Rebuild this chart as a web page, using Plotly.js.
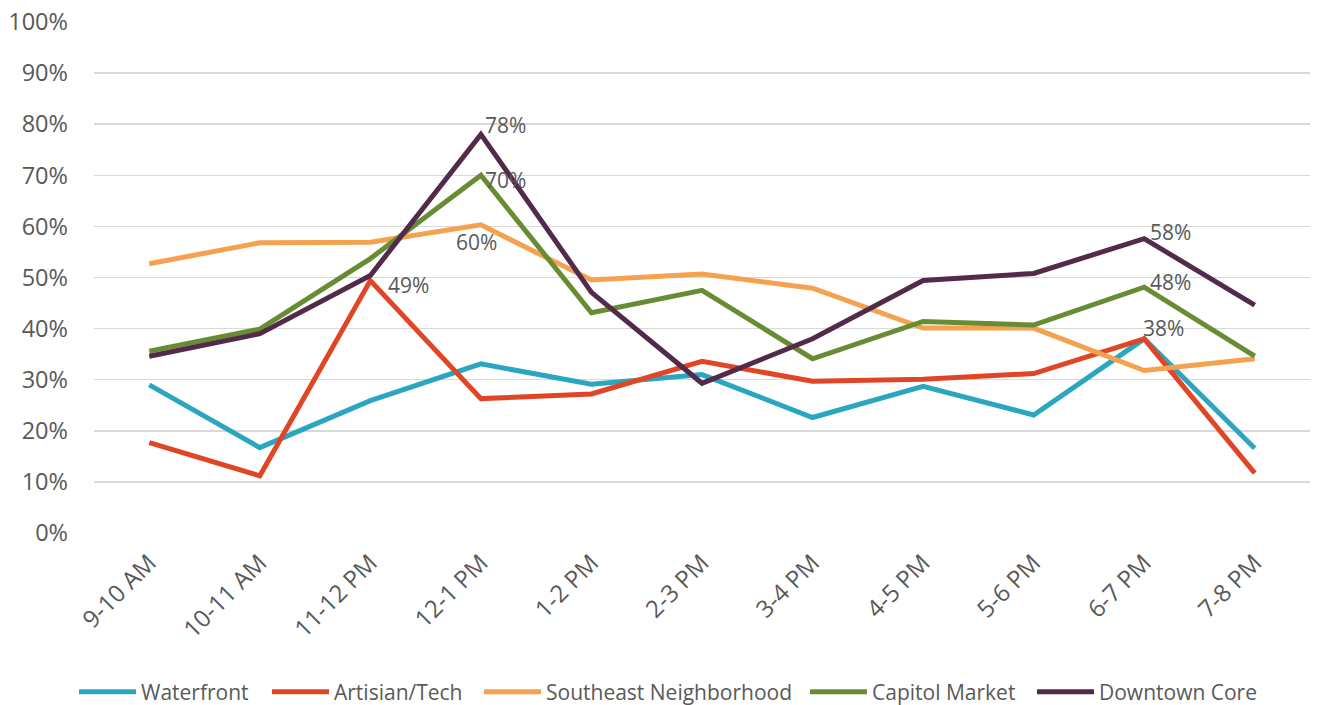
<!DOCTYPE html>
<html>
<head>
<meta charset="utf-8">
<script src="https://cdn.plot.ly/plotly-3.0.1.min.js"></script>
<style>html,body{margin:0;padding:0;background:#fff;}#chart{width:1317px;height:705px;}</style>
</head>
<body>
<div id="chart"></div>
<script>
const categories = ["9-10 AM","10-11 AM","11-12 PM","12-1 PM","1-2 PM","2-3 PM","3-4 PM","4-5 PM","5-6 PM","6-7 PM","7-8 PM"];
const seriesNames = ["Waterfront","Artisian/Tech","Southeast Neighborhood","Capitol Market","Downtown Core"];
const waterfront = [29.0,16.7,25.9,33.1,29.1,31.0,22.6,28.7,23.1,38.0,16.6];
const artisianTech = [17.7,11.2,49.4,26.3,27.2,33.6,29.7,30.1,31.2,38.0,11.7];
const southeast = [52.7,56.8,56.9,60.3,49.5,50.7,47.9,40.1,40.1,31.8,34.1];
const capitolMarket = [35.6,39.9,53.7,70.0,43.1,47.5,34.1,41.4,40.7,48.1,34.6];
const downtownCore = [34.6,39.0,50.4,78.0,47.1,29.3,38.0,49.4,50.8,57.6,44.6];
const yTicks = [0,10,20,30,40,50,60,70,80,90,100];

const seriesValues = [waterfront, artisianTech, southeast, capitolMarket, downtownCore];
const colors = ["#2BA6C0","#E04526","#F5A250","#688C33","#532A4A"];
// data labels: [series index, category index, xanchor, xshift, yshift]
const labelSpec = [
  [4, 3, "left", 2, 9],
  [3, 3, "left", 2, -5],
  [2, 3, "center", -4, -17],
  [1, 2, "left", 16, -4],
  [4, 9, "left", 4, 7],
  [3, 9, "left", 4, 5],
  [0, 9, "left", -3, 11]
];
// legend entry left edges (px in the 1317-wide page)
const legendLeft = [79, 272, 484, 810, 1037];
const legendOffset = 5;

const FONT = "Open Sans, sans-serif";
const GREY = "#595959";
const legendIds = ["legend","legend2","legend3","legend4","legend5"];

const traces = seriesValues.map((vals, s) => ({
  type: "scatter",
  mode: "lines",
  name: seriesNames[s],
  x: categories,
  y: vals,
  legend: legendIds[s],
  line: {color: colors[s], width: 5},
  hoverinfo: "x+y+name"
}));

const annotations = labelSpec.map(([s, i, xa, xs, ys]) => ({
  x: categories[i],
  y: seriesValues[s][i],
  xref: "x", yref: "y",
  text: Math.round(seriesValues[s][i]) + "%",
  showarrow: false,
  xanchor: xa, yanchor: "middle",
  xshift: xs, yshift: ys,
  font: {family: FONT, size: 21, color: GREY}
}));

const layout = {
  width: 1317,
  height: 705,
  margin: {l: 94, r: 7, t: 22, b: 172, autoexpand: false},
  paper_bgcolor: "#ffffff",
  plot_bgcolor: "#ffffff",
  font: {family: FONT, size: 20, color: GREY},
  showlegend: true,
  annotations: annotations,
  xaxis: {
    type: "category",
    range: [-0.5, 10.5],
    tickangle: -45,
    showgrid: false,
    zeroline: false,
    showline: false,
    automargin: false,
    ticks: "",
    tickfont: {family: FONT, size: 24, color: GREY},
    ticklabelstandoff: 10
  },
  yaxis: {
    range: [0, 100],
    tickvals: yTicks,
    ticktext: yTicks.map(v => v + "%"),
    showgrid: true,
    gridcolor: "#D9D9D9",
    gridwidth: 1.5,
    zeroline: false,
    showline: false,
    automargin: false,
    ticks: "",
    tickfont: {family: FONT, size: 23.5, color: GREY},
    ticklabelstandoff: 25
  }
};
legendIds.forEach((id, s) => {
  layout[id] = {
    orientation: "h",
    xref: "container", yref: "container",
    x: (legendLeft[s] - legendOffset) / 1317, xanchor: "left",
    y: 13 / 705, yanchor: "middle",
    font: {family: FONT, size: 21, color: GREY},
    itemwidth: 57,
    bgcolor: "rgba(0,0,0,0)"
  };
});

Plotly.newPlot("chart", traces, layout, {displayModeBar: false, staticPlot: true});
</script>
</body>
</html>
